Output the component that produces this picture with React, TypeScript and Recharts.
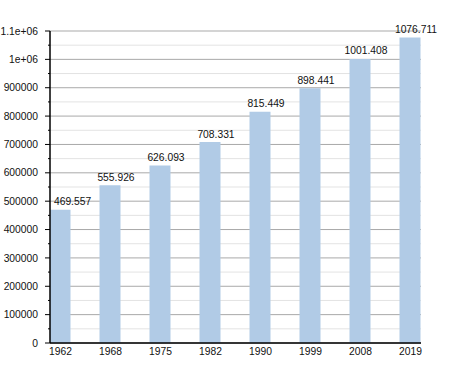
import React from 'react';
import { BarChart, Bar, XAxis, YAxis, CartesianGrid, LabelList } from 'recharts';

const years = ['1962', '1968', '1975', '1982', '1990', '1999', '2008', '2019'];
const population = [469557, 555926, 626093, 708331, 815449, 898441, 1001408, 1076711];
const majorTicks = [0, 100000, 200000, 300000, 400000, 500000, 600000, 700000, 800000, 900000, 1000000, 1100000];
const minorTicks = [50000, 150000, 250000, 350000, 450000, 550000, 650000, 750000, 850000, 950000, 1050000];
const allTicks = [...majorTicks, ...minorTicks].sort((a, b) => a - b);
const xTicks = years.map((_, i) => i);

const data = years.map((y, i) => ({ idx: i, year: y, value: population[i] }));

const FONT = '"Liberation Sans", Arial, sans-serif';
const FS = 10.3;

const fmtY = (v: number) => {
  if (v === 1000000) return '1e+06';
  if (v === 1100000) return '1.1e+06';
  return String(v);
};

const YTick = (props: any) => {
  const { x, y, payload } = props;
  const v = payload.value as number;
  const major = majorTicks.includes(v);
  return (
    <g>
      <line x1={major ? x + 7 : x + 10} x2={x + 12} y1={y} y2={y} stroke="#000" strokeWidth={1} />
      {major && (
        <text x={x} y={y} dy="0.35em" textAnchor="end" fontSize={FS} fontFamily={FONT} fill="#111">
          {fmtY(v)}
        </text>
      )}
    </g>
  );
};

const BarLabel = (props: any) => {
  const { x, y, width, value } = props;
  const txt = (value / 1000).toFixed(3);
  const approxW = txt.length * 5.3;
  let cx = x + width / 2 + 6;
  if (cx - approxW / 2 < 54) cx = 54 + approxW / 2;
  return (
    <text x={cx} y={y - 4.5} textAnchor="middle" fontSize={FS} fontFamily={FONT} fill="#111">
      {txt}
    </text>
  );
};

export default function App() {
  return (
    <div style={{ position: 'absolute', left: 0, top: 0, background: '#fff' }}>
      <BarChart width={450} height={373} data={data} margin={{ top: 31, right: 29, bottom: 0, left: 0 }}>
        <CartesianGrid vertical={false} horizontalValues={minorTicks} stroke="#e3e3e3" strokeWidth={1} />
        <CartesianGrid vertical={false} horizontalValues={majorTicks} stroke="#a9a9a9" strokeWidth={1} />
        <XAxis
          dataKey="idx"
          type="number"
          domain={[-0.21, 7.21]}
          ticks={xTicks}
          interval={0}
          allowDataOverflow
          tickFormatter={(v: number) => years[v]}
          tickLine={false}
          tickSize={0}
          tickMargin={5}
          height={30}
          axisLine={{ stroke: '#000', strokeWidth: 1.5 }}
          tick={{ fontSize: FS, fontFamily: FONT, fill: '#111' }}
        />
        <YAxis
          type="number"
          domain={[0, 1100000]}
          ticks={allTicks}
          interval={0}
          width={50}
          tickSize={5}
          tickMargin={7}
          tickLine={false}
          axisLine={{ stroke: '#000', strokeWidth: 1.5 }}
          tick={<YTick />}
        />
        <Bar dataKey="value" fill="#b1cbe6" barSize={21} isAnimationActive={false}>
          <LabelList dataKey="value" content={<BarLabel />} />
        </Bar>
      </BarChart>
    </div>
  );
}
